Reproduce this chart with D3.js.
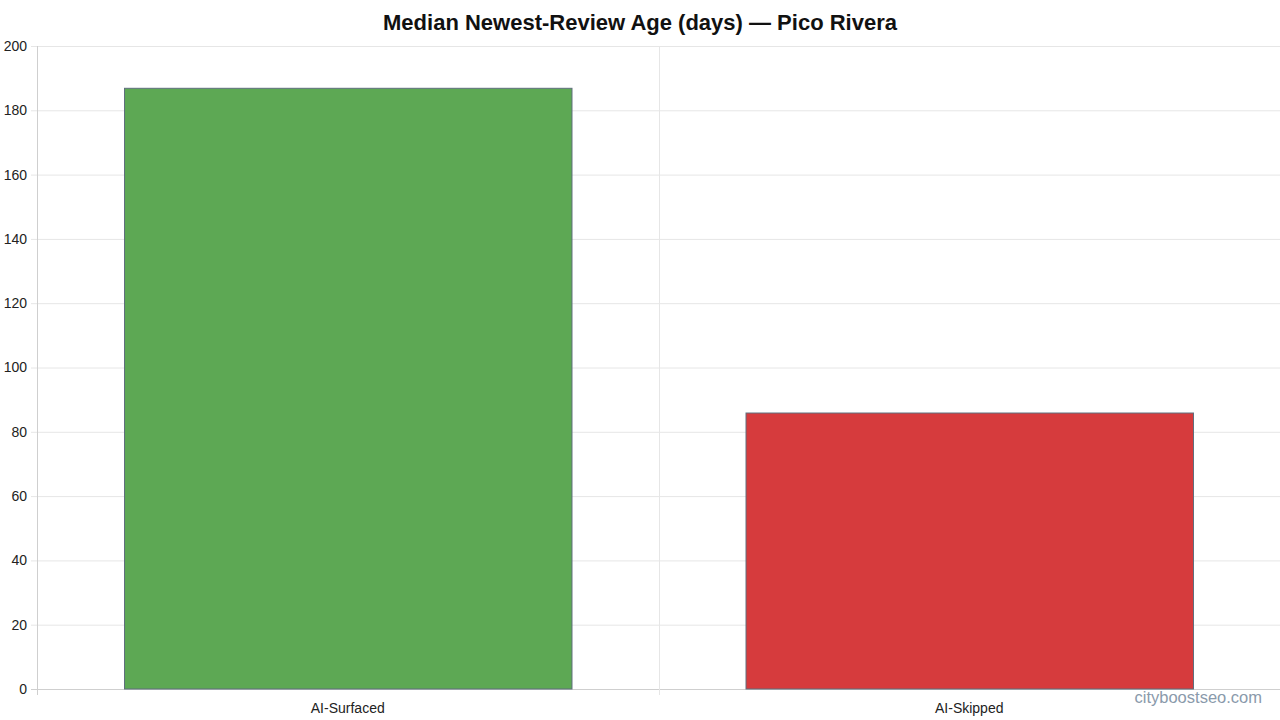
<!DOCTYPE html>
<html>
<head>
    <title>Median Newest-Review Age</title>
    <style>
        body { margin: 0; background: #ffffff; }
        #chart { width: 1280px; height: 720px; }
        text { font-family: "Liberation Sans", Arial, sans-serif; }
    </style>
    <script src="https://d3js.org/d3.v7.min.js"></script>
</head>
<body>
    <div id="chart"></div>
    <script>
        var categories = ["AI-Surfaced", "AI-Skipped"];
        var values = [187, 86];
        var barColors = ["#5da854", "#d63b3d"];
        var yTicks = [0, 20, 40, 60, 80, 100, 120, 140, 160, 180, 200];

        var margin = { top: 46, right: 0, bottom: 31, left: 37 };
        var width = 1280 - margin.left - margin.right;
        var height = 720 - margin.top - margin.bottom;

        var svg = d3.select('#chart')
            .append('svg')
            .attr('width', 1280)
            .attr('height', 720);

        var g = svg.append('g')
            .attr('transform', 'translate(' + margin.left + ',' + margin.top + ')');

        var x = d3.scaleBand()
            .domain(categories)
            .range([0, width])
            .paddingInner(0.28)
            .paddingOuter(0.14);

        var y = d3.scaleLinear()
            .domain([0, 200])
            .range([height, 0]);

        // horizontal grid
        g.selectAll('.hgrid')
            .data(yTicks)
            .enter()
            .append('line')
            .attr('x1', -6)
            .attr('x2', width)
            .attr('y1', function(d) { return y(d) + 0.5; })
            .attr('y2', function(d) { return y(d) + 0.5; })
            .attr('stroke', function(d) { return d === 0 ? '#cfcfcf' : '#e6e6e6'; })
            .attr('stroke-width', 1);

        // vertical grid at category boundaries
        var step = width / categories.length;
        var vlines = d3.range(categories.length + 1).map(function(i) { return i * step; });
        g.selectAll('.vgrid')
            .data(vlines)
            .enter()
            .append('line')
            .attr('x1', function(d) { return Math.round(d) + 0.5; })
            .attr('x2', function(d) { return Math.round(d) + 0.5; })
            .attr('y1', 0)
            .attr('y2', height + 6)
            .attr('stroke', function(d, i) { return i === 0 ? '#cfcfcf' : '#e6e6e6'; })
            .attr('stroke-width', 1);

        // y labels
        g.selectAll('.ylab')
            .data(yTicks)
            .enter()
            .append('text')
            .attr('x', -10)
            .attr('y', function(d) { return y(d); })
            .attr('dy', '0.35em')
            .attr('text-anchor', 'end')
            .attr('font-size', 14)
            .attr('fill', '#222')
            .text(function(d) { return d; });

        // bars
        g.selectAll('rect')
            .data(values)
            .enter()
            .append('rect')
            .attr('x', function(d, i) { return x(categories[i]) + 0.5; })
            .attr('y', function(d) { return y(d) + 0.5; })
            .attr('width', x.bandwidth())
            .attr('height', function(d) { return height - y(d) - 0.5; })
            .attr('fill', function(d, i) { return barColors[i]; })
            .attr('stroke', '#5f6f7d')
            .attr('stroke-width', 1);

        // x labels
        g.selectAll('.xlab')
            .data(categories)
            .enter()
            .append('text')
            .attr('x', function(d) { return x(d) + x.bandwidth() / 2; })
            .attr('y', height + 24)
            .attr('text-anchor', 'middle')
            .attr('font-size', 14)
            .attr('fill', '#222')
            .text(function(d) { return d; });

        svg.append('text')
            .attr('x', 640)
            .attr('y', 30)
            .attr('text-anchor', 'middle')
            .attr('font-size', 22)
            .attr('font-weight', 'bold')
            .attr('fill', '#111')
            .text('Median Newest-Review Age (days) \u2014 Pico Rivera');

        svg.append('text')
            .attr('x', 1262)
            .attr('y', 703)
            .attr('text-anchor', 'end')
            .attr('font-size', 16.5)
            .attr('fill', '#8a9aab')
            .text('cityboostseo.com');
    </script>
</body>
</html>
